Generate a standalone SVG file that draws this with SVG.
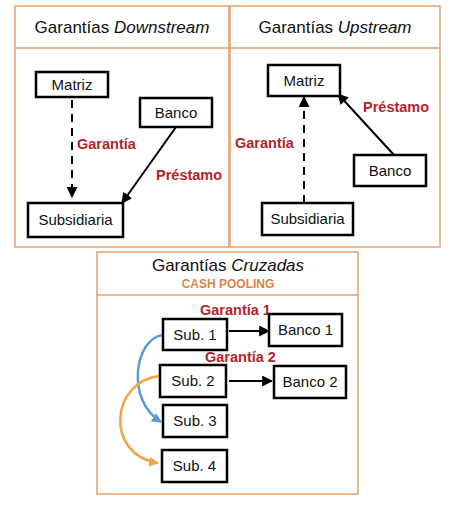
<svg xmlns="http://www.w3.org/2000/svg" width="465" height="514" viewBox="0 0 465 514">
<style>
.panel{fill:#fff;stroke:#e4a272;stroke-width:1.5}
.box{fill:#fff;stroke:#000;stroke-width:2.5}
.t{font-family:"Liberation Sans",Arial,sans-serif;font-size:15px;fill:#111;text-anchor:middle}
.title{font-family:"Liberation Sans",Arial,sans-serif;font-size:17px;fill:#111;text-anchor:middle}
.red{font-family:"Liberation Sans",Arial,sans-serif;font-size:14.5px;font-weight:bold;fill:#b5232d}
.cash{font-family:"Liberation Sans",Arial,sans-serif;font-size:12px;font-weight:bold;fill:#d9844a;text-anchor:middle}
.line{fill:none;stroke:#000;stroke-width:2}
</style>
<defs>
<marker id="ah" viewBox="0 0 10 10" refX="9" refY="5" markerWidth="5.5" markerHeight="5.5" orient="auto" markerUnits="strokeWidth"><path d="M0,0L10,5L0,10z" fill="#000"/></marker>
<marker id="ahb" viewBox="0 0 10 10" refX="9" refY="5" markerWidth="4" markerHeight="4" orient="auto" markerUnits="strokeWidth"><path d="M0,0L10,5L0,10z" fill="#5b9bd5"/></marker>
<marker id="aho" viewBox="0 0 10 10" refX="9" refY="5" markerWidth="4" markerHeight="4" orient="auto" markerUnits="strokeWidth"><path d="M0,0L10,5L0,10z" fill="#f2a444"/></marker>
</defs>
<rect width="465" height="514" fill="#fff"/>
<g id="panel-downstream">
<rect class="panel" x="15" y="6" width="214" height="241"/>
<line x1="15" y1="48" x2="229" y2="48" stroke="#e4a272" stroke-width="1.5"/>
<text class="title" x="122" y="33">Garantías <tspan font-style="italic">Downstream</tspan></text>
</g>
<g id="panel-upstream">
<rect class="panel" x="230" y="6" width="210" height="241"/>
<line x1="230" y1="48" x2="440" y2="48" stroke="#e4a272" stroke-width="1.5"/>
<text class="title" x="335" y="33">Garantías <tspan font-style="italic">Upstream</tspan></text>
</g>
<g id="panel-cruzadas">
<rect class="panel" x="97" y="252" width="261" height="242"/>
<line x1="97" y1="295" x2="358" y2="295" stroke="#e4a272" stroke-width="1.5"/>
<text class="title" x="228" y="271">Garantías <tspan font-style="italic">Cruzadas</tspan></text>
<text class="cash" x="228" y="288">CASH POOLING</text>
</g>
<g id="connectors">
<line class="line" x1="72" y1="100" x2="72" y2="197" stroke-dasharray="8,6" marker-end="url(#ah)"/>
<line class="line" x1="176" y1="127" x2="122" y2="203" marker-end="url(#ah)"/>
<line class="line" x1="304" y1="203" x2="304" y2="97" stroke-dasharray="8,6" marker-end="url(#ah)"/>
<line class="line" x1="394" y1="155" x2="338" y2="94" marker-end="url(#ah)"/>
<line class="line" x1="229" y1="331" x2="269" y2="331" marker-end="url(#ah)"/>
<line class="line" x1="229" y1="381" x2="272" y2="381" marker-end="url(#ah)"/>
<path d="M163,335 C135,338 125,400 161,422" fill="none" stroke="#5b9bd5" stroke-width="2.5" marker-end="url(#ahb)"/>
<path d="M159,376 C110,382 105,455 158,463" fill="none" stroke="#f2a444" stroke-width="2.5" marker-end="url(#aho)"/>
</g>
<g id="labels">
<text class="red" x="77" y="149">Garantía</text>
<text class="red" x="156" y="180">Préstamo</text>
<text class="red" x="235" y="148">Garantía</text>
<text class="red" x="363" y="112">Préstamo</text>
<text class="red" x="200" y="315">Garantía 1</text>
<text class="red" x="205" y="362">Garantía 2</text>
</g>
<g id="node-matriz-d"><rect class="box" x="36" y="72" width="72" height="25"/><text class="t" x="72" y="90">Matriz</text></g>
<g id="node-banco-d"><rect class="box" x="140" y="98" width="72" height="29"/><text class="t" x="176" y="118">Banco</text></g>
<g id="node-subsidiaria-d"><rect class="box" x="28" y="203" width="95" height="34"/><text class="t" x="75.5" y="225">Subsidiaria</text></g>
<g id="node-matriz-u"><rect class="box" x="268" y="65" width="72" height="31"/><text class="t" x="304" y="86">Matriz</text></g>
<g id="node-banco-u"><rect class="box" x="354" y="155" width="72" height="31"/><text class="t" x="390" y="176">Banco</text></g>
<g id="node-subsidiaria-u"><rect class="box" x="262" y="203" width="91" height="32"/><text class="t" x="307.5" y="224">Subsidiaria</text></g>
<g id="node-sub1"><rect class="box" x="163" y="319" width="64" height="31"/><text class="t" x="195" y="340">Sub. 1</text></g>
<g id="node-banco1"><rect class="box" x="269" y="314" width="73" height="32"/><text class="t" x="305.5" y="335">Banco 1</text></g>
<g id="node-sub2"><rect class="box" x="160" y="365" width="66" height="32"/><text class="t" x="193" y="386">Sub. 2</text></g>
<g id="node-banco2"><rect class="box" x="274" y="366" width="72" height="32"/><text class="t" x="310" y="387">Banco 2</text></g>
<g id="node-sub3"><rect class="box" x="163" y="405" width="64" height="32"/><text class="t" x="195" y="426">Sub. 3</text></g>
<g id="node-sub4"><rect class="box" x="162" y="450" width="65" height="32"/><text class="t" x="194.5" y="471">Sub. 4</text></g>
</svg>
